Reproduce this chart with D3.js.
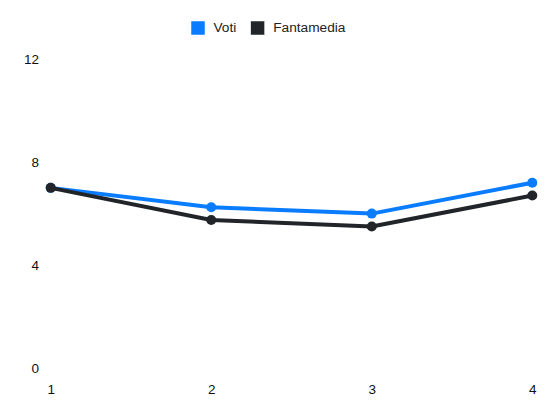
<!DOCTYPE html>
<html><head><meta charset="utf-8">
<script src="https://cdn.jsdelivr.net/npm/d3@7"></script>
<style>body{margin:0;background:#fff}svg{display:block;font-family:"Liberation Sans",Arial,sans-serif}</style>
</head><body><svg id="c" width="550" height="412"></svg>
<script>
const categories = [1, 2, 3, 4];
const voti = [7, 6.25, 6, 7.2];
const fantamedia = [7, 5.75, 5.5, 6.7];
const yTicks = [0, 4, 8, 12];
const seriesNames = ["Voti", "Fantamedia"];
const colors = ["#0a7cff", "#212529"];

const svg = d3.select("#c");
const x = d3.scalePoint().domain(categories).range([50.7, 532.3]);
const y = d3.scaleLinear().domain([0, 12]).range([368, 59.2]);

// y axis labels
const ya = svg.append("g").attr("transform", "translate(39,0)")
  .call(d3.axisLeft(y).tickValues(yTicks).tickSize(0).tickPadding(0));
ya.select(".domain").remove();
ya.selectAll("text").attr("font-size", 13.5).attr("fill", "#111").attr("font-family", "Liberation Sans, Arial, sans-serif");

// x axis labels
const xa = svg.append("g").attr("transform", "translate(0,384.5)")
  .call(d3.axisBottom(x).tickSize(0).tickPadding(0));
xa.select(".domain").remove();
xa.selectAll("text").attr("font-size", 13.5).attr("fill", "#111").attr("font-family", "Liberation Sans, Arial, sans-serif");

const series = [voti, fantamedia];
const line = d3.line().x((d, i) => x(categories[i])).y(d => y(d));
series.forEach((s, k) => {
  svg.append("path").datum(s).attr("d", line)
    .attr("fill", "none").attr("stroke", colors[k]).attr("stroke-width", 4)
    .attr("stroke-linejoin", "round");
  svg.append("g").selectAll("circle").data(s).join("circle")
    .attr("cx", (d, i) => x(categories[i])).attr("cy", d => y(d))
    .attr("r", 5).attr("fill", colors[k]);
});

// legend
const legendX = [191, 250.7];
const lg = svg.append("g");
seriesNames.forEach((n, k) => {
  lg.append("rect").attr("x", legendX[k]).attr("y", 21).attr("width", 14).attr("height", 14)
    .attr("fill", colors[k]).attr("stroke", "#fff").attr("stroke-width", 0.5);
  lg.append("text").attr("x", legendX[k] + 22.5).attr("y", 31.7)
    .attr("font-size", 13.7).attr("fill", "#222").text(n);
});
</script></body></html>
